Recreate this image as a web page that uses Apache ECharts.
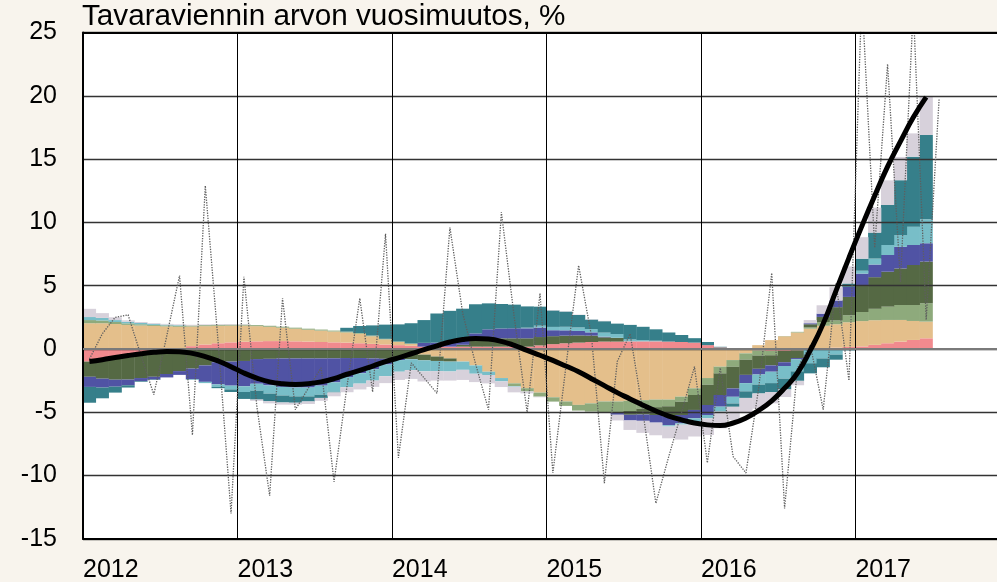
<!DOCTYPE html>
<html><head><meta charset="utf-8">
<script src="https://cdn.jsdelivr.net/npm/echarts@6/dist/echarts.min.js"></script>
<style>html,body{margin:0;padding:0;background:#f8f4ed}#c{width:997px;height:582px}</style>
</head><body><div id="c"></div>
<script>
const titleText = 'Tavaraviennin arvon vuosimuutos, %';
const yearLabels = ['2012','2013','2014','2015','2016','2017'];
const seriesNames = ['c1','c2','c3','c4','c5','c6','c7','c8'];
const seriesColors = ['#f18a8e','#e4bf8b','#8eaa7c','#556944','#5053a4','#78bec8','#367f8a','#d7d1db'];

const pink = [-1.0,-0.9,-0.78,-0.62,-0.48,-0.32,-0.16,-0.05,0.22,0.35,0.45,0.52,
0.57,0.6,0.62,0.62,0.6,0.58,0.55,0.52,0.5,0.45,0.4,0.35,
0.3,0.25,0.18,0.18,0.18,0.18,0.18,0.18,0.18,0.18,0.18,0.28,
0.38,0.45,0.5,0.55,0.58,0.58,0.6,0.6,0.6,0.58,0.55,0.5,
0.3,0.12,0.05,-0.05,-0.12,-0.15,-0.15,-0.12,-0.08,0.03,0.1,0.16,
0.2,0.32,0.45,0.58,0.71,0.84];
const tan = [2.03,2.03,1.97,1.9,1.85,1.82,1.78,1.75,1.55,1.45,1.38,1.32,
1.27,1.2,1.13,1.06,1.0,0.94,0.9,0.86,0.8,0.75,0.6,0.4,
0.25,0.15,-0.45,-0.6,-0.75,-1.0,-1.3,-1.8,-2.3,-2.72,-3.1,-3.45,
-3.82,-4.15,-4.42,-4.3,-4.15,-4.15,-4.1,-4.05,-4.0,-4.0,-3.77,-3.11,
-2.3,-1.4,-0.88,-0.3,0.3,0.7,1.0,1.3,1.6,1.8,1.85,1.95,
2.0,1.95,1.84,1.71,1.5,1.32];
const lightGreen = [0.25,0.22,0.16,0.12,0.1,0.08,0.08,0.08,0.08,0.08,0.08,0.08,
0.08,0.08,0.08,0.08,0.08,0.08,0.08,0.07,0.07,0.06,0.06,0.05,
0.04,0.03,0,0,0,0,0,0,0,-0.21,-0.26,-0.32,
-0.34,-0.35,-0.45,-0.65,-0.85,-0.85,-0.8,-0.68,-0.6,-0.53,-0.4,-0.53,
-0.53,-0.53,-0.53,-0.5,-0.4,-0.35,0.02,0.05,0.1,0.3,0.3,0.55,
0.72,0.9,1.05,1.18,1.26,1.45];
const darkGreen = [-1.2,-1.45,-1.65,-1.8,-1.82,-1.88,-1.82,-1.7,-1.55,-1.3,-1.05,-1.0,
-0.95,-0.8,-0.78,-0.75,-0.75,-0.75,-0.75,-0.74,-0.72,-0.72,-0.75,-0.78,
-0.78,-0.8,-0.45,-0.35,-0.25,0.15,0.45,0.62,0.66,0.66,0.66,0.66,
0.63,0.6,0.57,0.5,0.34,0.3,-0.3,-0.45,-0.62,-0.8,-1.05,-1.18,
-1.6,-1.71,-1.71,-1.2,-1.05,-0.8,-0.9,-0.6,0.25,0.4,1.05,1.45,
2.05,2.5,2.76,2.89,3.16,3.29];
const blue = [-0.8,-0.7,-0.55,-0.45,-0.25,-0.22,-0.27,-0.3,-0.85,-1.3,-1.75,-1.9,
-2.0,-1.95,-2.1,-2.25,-2.3,-2.3,-2.15,-1.9,-1.5,-1.2,-0.85,-0.45,
-0.1,-0.02,0.3,0.32,0.33,0.35,0.6,0.75,0.78,0.79,0.79,0.75,
0.47,0.42,0.35,0.26,0.05,-0.2,-0.45,-0.5,-0.6,-0.7,-0.66,-0.66,
-0.79,-0.92,-0.66,-0.65,-0.45,-0.5,-0.3,-0.1,0.08,0.26,0.53,0.8,
0.98,1.0,1.32,1.71,1.58,1.45];
const cyan = [0.24,0.2,0.15,0.12,0.1,0.08,0.06,0.05,-0.05,-0.1,-0.2,-0.3,
-0.45,-0.55,-0.65,-0.68,-0.7,-0.7,-0.72,-0.75,-0.8,-0.82,-0.9,-0.92,
-0.92,-0.85,-0.87,-0.8,-0.78,-0.65,-0.66,-0.26,-0.26,-0.05,0.05,0.15,
0.26,0.28,0.28,0.26,0.32,0.3,0.15,0.1,0.05,-0.1,-0.1,-0.26,
-0.26,-0.39,-0.53,-0.65,-0.8,-0.9,-1.0,-0.95,-1.05,-0.75,-0.45,-0.13,
0.23,0.47,0.79,0.92,1.45,1.89];
const teal = [-1.25,-0.85,-0.47,-0.18,-0.05,-0.03,0,0,0,0,-0.1,-0.2,
-0.55,-0.7,-0.6,-0.55,-0.5,-0.4,-0.25,-0.05,0.3,0.55,0.8,1.12,
1.35,1.6,1.8,2.3,2.5,2.5,2.3,2.05,1.93,1.87,1.68,1.5,
1.3,1.2,0.98,0.75,0.9,0.82,1.15,1.05,0.9,0.72,0.55,0.35,
0.25,0.05,-0.26,-0.52,-0.7,-0.7,-0.85,-0.75,-0.8,-0.7,-0.4,0.26,
0.95,2.05,3.16,4.34,5.53,6.66];
const lavender = [0.65,0.38,0.22,0.12,0.08,0.06,0.06,0.06,0.06,0.06,0.05,0.05,
0.05,-0.1,-0.17,-0.17,-0.15,-0.2,-0.23,-0.3,-0.4,-0.46,-0.5,-0.55,
-0.65,-0.7,-0.8,-0.75,-0.72,-0.8,-0.66,-0.66,-0.45,-0.45,-0.15,-0.05,
0.03,0.03,0.03,0.03,0.03,-0.45,-0.75,-0.95,-1.0,-0.93,-1.18,-1.18,
-1.32,-1.32,-1.05,-1.2,-1.2,-0.9,-0.6,-0.35,0.25,0.66,1.05,1.35,
1.7,1.97,1.95,1.84,1.84,3.03];
const trend = [-1.0,-0.85,-0.68,-0.52,-0.38,-0.27,-0.2,-0.22,-0.35,-0.6,-0.95,-1.4,
-1.9,-2.3,-2.6,-2.75,-2.8,-2.75,-2.6,-2.35,-2.0,-1.7,-1.35,-1.0,
-0.7,-0.38,-0.05,0.25,0.55,0.75,0.83,0.78,0.6,0.28,-0.12,-0.5,
-0.9,-1.35,-1.8,-2.35,-2.9,-3.45,-3.95,-4.45,-4.9,-5.3,-5.6,-5.85,
-6.0,-6.05,-5.85,-5.45,-4.85,-4.1,-3.1,-1.9,-0.1,2.0,4.6,7.2,
9.7,12.1,14.4,16.4,18.3,19.9];
const monthly = [-0.8,1.2,2.5,2.7,-0.5,-3.6,1.0,5.8,-6.8,12.9,0.5,-13.0,
5.7,-4.5,-11.6,4.0,-4.8,-3.1,-1.5,-10.5,-3.0,4.0,-3.4,9.1,
-8.6,-1.1,-2.3,-3.5,9.6,2.8,-1.2,-4.8,10.8,2.5,-5.0,4.4,
-9.8,-1.5,6.6,1.0,-10.6,-1.0,1.2,-5.0,-12.2,-8.5,-5.0,-1.4,
-9.0,-1.5,-8.5,-9.8,-3.0,6.0,-12.6,-1.5,0.3,-4.8,5.2,-2.5,
28,8,22.5,5.3,27,2.3,19.7];

const components = [pink, tan, lightGreen, darkGreen, blue, cyan, teal, lavender];
const FONT = "'Liberation Sans', Arial, sans-serif";
const nMonths = 71;
// month categories Jan 2012 .. Nov 2017
const months = [];
for (let i = 0; i < nMonths; i++) months.push((2012 + Math.floor(i / 12)) + '-' + String(i % 12 + 1).padStart(2, '0'));
const gridLeft = 83, gridRight = 0;
const chart = echarts.init(document.getElementById('c'));
const barW = (997 - gridLeft - gridRight) / nMonths;

const barSeries = components.map((arr, k) => ({
  name: seriesNames[k], type: 'bar', stack: 'all', xAxisIndex: 1,
  barWidth: barW + 0.4,
  itemStyle: {color: seriesColors[k]}, z: 2,
  data: arr
}));

chart.setOption({
  animation: false,
  backgroundColor: '#f8f4ed',
  textStyle: {fontFamily: FONT},
  grid: {left: gridLeft, right: gridRight, top: 32.5, bottom: 43.2, show: true,
         backgroundColor: '#ffffff', borderWidth: 0, outerBoundsMode: 'none'},
  graphic: [{type: 'text', left: 82, top: 2, z: 10,
    style: {text: titleText, fontSize: 29.7, fontFamily: FONT, fill: '#000'}}],
  xAxis: [{type: 'value', min: 0, max: nMonths, interval: 12, z: 3,
    axisLine: {show: true, onZero: false, lineStyle: {color: '#000', width: 2}},
    axisTick: {show: false},
    axisLabel: {formatter: v => (v % 12 === 0 ? (yearLabels[v / 12] || '') : ''),
      align: 'left', verticalAlign: 'middle', margin: 31, fontSize: 25, color: '#000',
      fontFamily: FONT, showMaxLabel: false},
    splitLine: {show: true, lineStyle: {color: '#000', width: 1}}},
   {type: 'category', data: months, show: false, boundaryGap: true}],
  yAxis: {type: 'value', min: -15, max: 25, interval: 5, z: 3,
    axisLine: {show: true, lineStyle: {color: '#000', width: 2}},
    axisTick: {show: false},
    axisLabel: {fontSize: 25, color: '#000', margin: 26, fontFamily: FONT},
    splitLine: {show: true, lineStyle: {color: '#333', width: 1.3}}},
  series: barSeries.concat([
    {type: 'line', name: 'monthly', xAxisIndex: 0, data: monthly.map((v, i) => [i + 0.5, v]),
     symbol: 'none', z: 4, lineStyle: {color: '#5e5e5e', width: 1.3, type: 'dotted'},
     markLine: {silent: true, symbol: 'none', label: {show: false},
       lineStyle: {color: '#7a7a7a', width: 2, type: 'solid'},
       data: [{yAxis: 0}, {yAxis: 25, lineStyle: {color: '#000', width: 2}}]}},
    {type: 'line', name: 'trend', xAxisIndex: 0, data: trend.map((v, i) => [i + 0.5, v]),
     symbol: 'none', smooth: true, z: 5, lineStyle: {color: '#000', width: 5}}
  ])
});
</script></body></html>
